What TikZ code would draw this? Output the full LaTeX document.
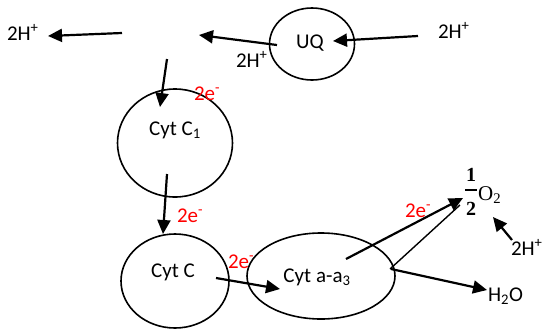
\documentclass[tikz,border=0pt]{standalone}
\usepackage{fontspec}
\setmainfont{Carlito}
\newfontfamily\serifO{Liberation Serif}
\usetikzlibrary{arrows.meta,shapes.geometric}
\begin{document}
\begin{tikzpicture}[x=1pt,y=-1pt,
  lbl/.style={anchor=base west, inner sep=0pt, outer sep=0pt, font=\fontsize{21}{24}\selectfont},
  red lbl/.style={lbl, text=red},
  ctr/.style={anchor=base, inner sep=0pt, outer sep=0pt, font=\fontsize{21}{24}\selectfont},
  oval/.style={draw, ellipse, line width=1.6pt, inner sep=0pt, outer sep=0pt},
  arr/.style={line width=2.2pt, -{Triangle[length=14pt,width=13pt]}},
  thin line/.style={line width=1.4pt}
]
\useasboundingbox (0,0) rectangle (544,330);

% ovals
\node[oval, minimum width=85pt, minimum height=72pt] (uq) at (312,44) {};
\node[oval, minimum width=115pt, minimum height=108pt] (c1) at (175,143) {};
\node[oval, minimum width=108pt, minimum height=94pt] (cc) at (175,281) {};
\node[oval, minimum width=148pt, minimum height=86pt] (caa) at (321,276) {};

% texts
\node[ctr] (tuq) at (310,48) {UQ};
\node[ctr] (tc1) at (175,135) {Cyt C\textsubscript{1}};
\node[ctr] (tcc) at (173,277) {Cyt C};
\node[ctr] (tcaa) at (317,282) {Cyt a-a\textsubscript{3}};

\node[lbl] (hL) at (7,40) {2H\textsuperscript{+}};
\node[lbl] (hM) at (236,67) {2H\textsuperscript{+}};
\node[lbl] (hR) at (438,38) {2H\textsuperscript{+}};
\node[lbl] (hO) at (511,255) {2H\textsuperscript{+}};
\node[lbl] (h2o) at (488,301) {H\textsubscript{2}O};

\node[red lbl] (e1) at (194,100) {2e\textsuperscript{-}};
\node[red lbl] (e2) at (177,222) {2e\textsuperscript{-}};
\node[red lbl] (e3) at (228,268) {2e\textsuperscript{-}};
\node[red lbl] (e4) at (405,217) {2e\textsuperscript{-}};

% 1/2 O2
\node[anchor=base, inner sep=0pt, font=\serifO\bfseries\fontsize{20}{22}\selectfont] (one) at (471,181) {1};
\node[anchor=base, inner sep=0pt, font=\serifO\bfseries\fontsize{20}{22}\selectfont] (two) at (471,215) {2};
\coordinate (barL) at (465,190);
\coordinate (barR) at (477,190);
\draw[line width=1.3pt] (barL) -- (barR);
\node[anchor=base west, inner sep=0pt, font=\serifO\fontsize{21}{24}\selectfont] (o2) at (478,200) {O\textsubscript{2}};

% connectors
\coordinate (a1s) at (122,33);  \coordinate (a1e) at (48,36);
\coordinate (a2s) at (277,45);  \coordinate (a2e) at (199,35);
\coordinate (a3s) at (418,36);  \coordinate (a3e) at (333,41);
\coordinate (a4s) at (167,59);  \coordinate (a4e) at (160,107);
\coordinate (a5s) at (167,174); \coordinate (a5e) at (163,234);
\coordinate (a6s) at (216,278); \coordinate (a6e) at (280,289);
\coordinate (a7s) at (346,259); \coordinate (a7e) at (463,198);
\coordinate (l8s) at (390,269); \coordinate (l8e) at (460,205);
\coordinate (a9s) at (391,269); \coordinate (a9e) at (487,290);
\coordinate (a10s) at (512,240); \coordinate (a10e) at (493,217);

\draw[arr] (a1s) -- (a1e);
\draw[arr] (a2s) -- (a2e);
\draw[arr] (a3s) -- (a3e);
\draw[arr] (a4s) -- (a4e);
\draw[arr] (a5s) -- (a5e);
\draw[arr] (a6s) -- (a6e);
\draw[arr] (a7s) -- (a7e);
\draw[thin line] (l8s) -- (l8e);
\draw[arr] (a9s) -- (a9e);
\draw[arr] (a10s) -- (a10e);
\end{tikzpicture}
\end{document}
